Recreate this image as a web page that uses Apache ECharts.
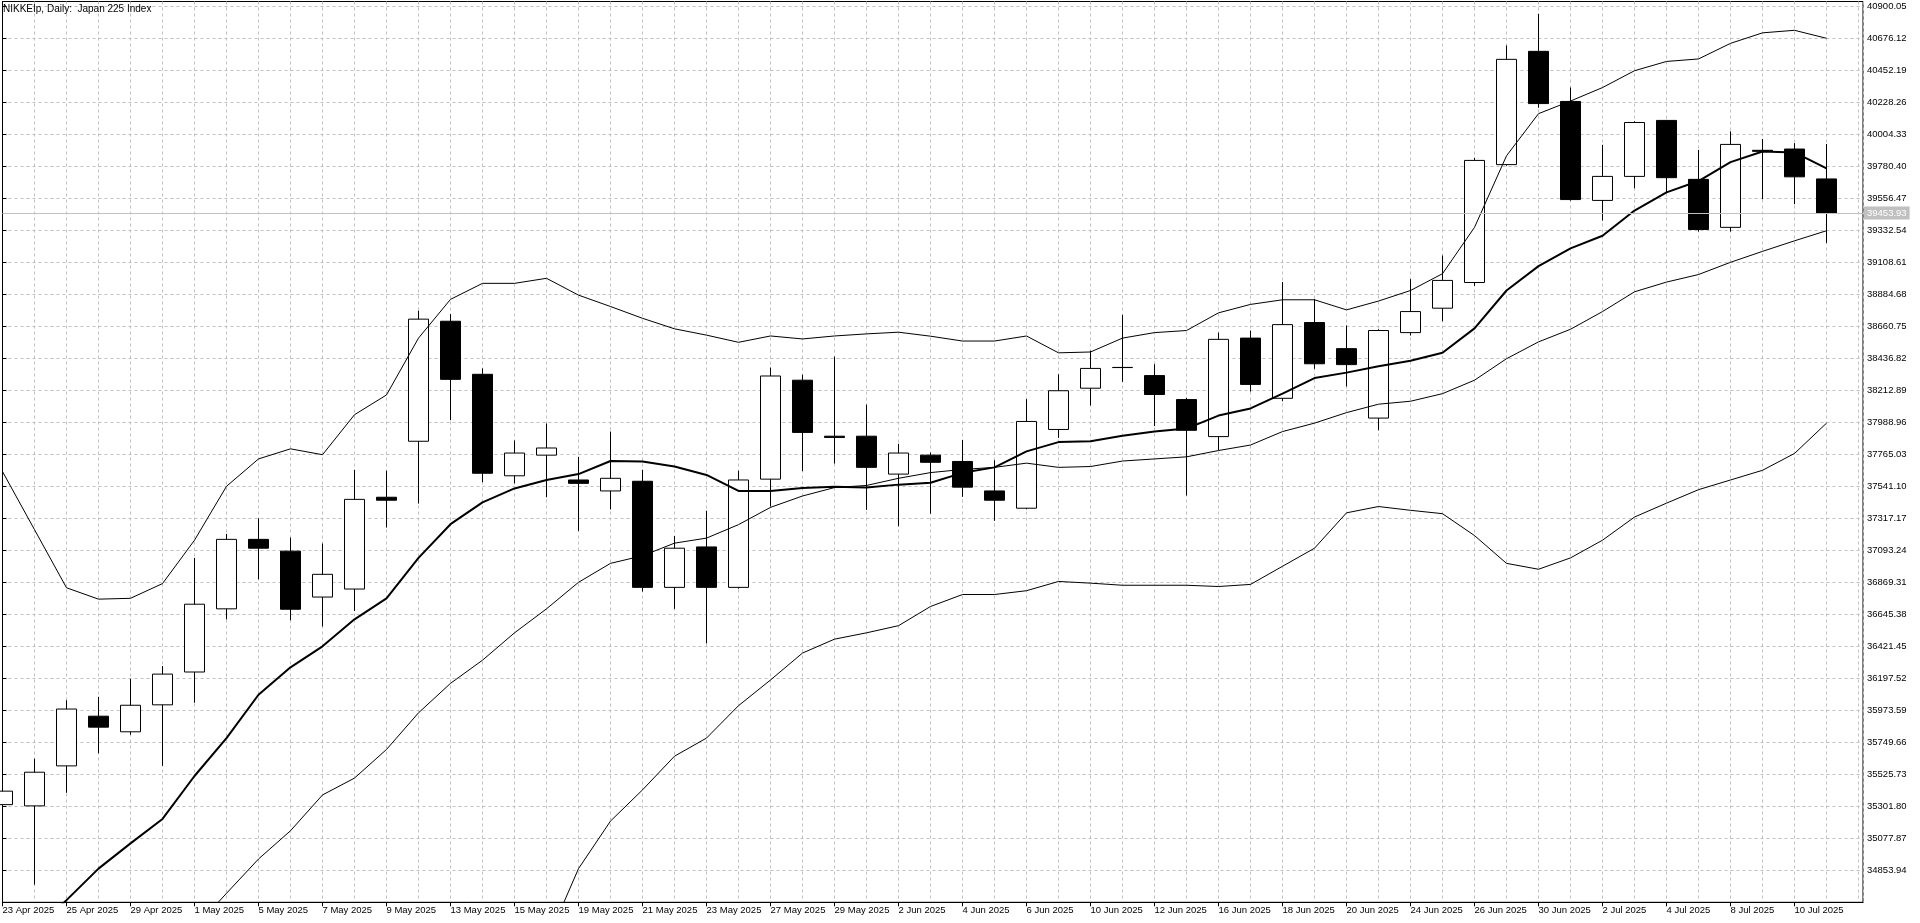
<!DOCTYPE html>
<html>
<head>
<meta charset="utf-8">
<script src="https://cdn.jsdelivr.net/npm/echarts@6/dist/echarts.min.js"></script>
<style>
html,body{margin:0;padding:0;background:#fff;}
#chart{width:1920px;height:923px;}
</style>
</head>
<body>
<div id="chart"></div>
<script>
const dates = ['23 Apr 2025','24 Apr 2025','25 Apr 2025','28 Apr 2025','29 Apr 2025','30 Apr 2025','1 May 2025','2 May 2025','5 May 2025','6 May 2025','7 May 2025','8 May 2025','9 May 2025','12 May 2025','13 May 2025','14 May 2025','15 May 2025','16 May 2025','19 May 2025','20 May 2025','21 May 2025','22 May 2025','23 May 2025','26 May 2025','27 May 2025','28 May 2025','29 May 2025','30 May 2025','2 Jun 2025','3 Jun 2025','4 Jun 2025','5 Jun 2025','6 Jun 2025','9 Jun 2025','10 Jun 2025','11 Jun 2025','12 Jun 2025','13 Jun 2025','16 Jun 2025','17 Jun 2025','18 Jun 2025','19 Jun 2025','20 Jun 2025','23 Jun 2025','24 Jun 2025','25 Jun 2025','26 Jun 2025','27 Jun 2025','30 Jun 2025','1 Jul 2025','2 Jul 2025','3 Jul 2025','4 Jul 2025','7 Jul 2025','8 Jul 2025','9 Jul 2025','10 Jul 2025','11 Jul 2025'];

const opens = [35313.5,35304.7,35584.6,35932.3,35823.2,36011.8,36241.6,36683.6,37169.8,37087.3,36766.1,36822.1,37464.5,37856.3,38696.1,38324.8,37614.7,37759.1,37585.3,37508.6,37576.4,36833.9,37116.8,36833.9,37591.2,38283.6,37891.7,37891.7,37626.5,37759.1,37714.9,37508.7,37387.8,37938.8,38227.5,38372.0,38315.9,38148.0,37888.8,38578.2,38156.9,38687.2,38504.5,38018.4,38616.5,38787.4,38967.2,39792.2,40584.8,40234.2,39541.7,39709.7,40101.5,39689.0,39353.2,39892.3,39901.2,39692.0];

const closes = [35407.8,35540.4,35982.4,35855.7,36008.9,36226.9,36716.0,37169.8,37107.9,36680.7,36925.2,37449.7,37443.8,38710.8,38289.5,37632.4,37773.8,37809.2,37561.7,37597.0,36833.9,37107.9,36833.9,37585.3,38313.0,37918.2,37883.0,37673.7,37773.8,37709.0,37535.2,37443.8,37994.8,38209.9,38366.0,38373.0,38183.4,37932.9,38569.4,38254.1,38672.5,38398.5,38392.6,38631.2,38763.8,38981.9,39821.6,40528.8,40219.4,39547.6,39709.7,40086.8,39700.8,39338.4,39933.6,39885.0,39706.7,39453.93];

const highs = [35440.0,35634.7,36044.2,36067.8,36194.5,36282.9,37040.2,37208.1,37317.1,37181.6,37140.3,37656.0,37650.1,38769.8,38746.2,38366.1,37862.2,37980.1,37747.3,37924.1,37656.0,37193.4,37370.2,37650.1,38372.0,38321.9,38448.6,38112.7,37838.7,37776.8,37865.2,37723.8,38151.0,38324.8,38489.9,38740.3,38395.6,38159.8,38616.5,38631.2,38970.1,38852.2,38666.6,38640.0,38990.7,39155.7,39839.3,40626.0,40847.0,40331.4,39930.7,40095.6,40105.0,39895.3,40025.0,39971.9,39942.4,39936.5];

const lows = [35290.0,34753.7,35396.0,35673.0,35802.6,35584.6,36026.6,36610.0,36889.9,36604.1,36559.9,36668.9,37252.3,37420.3,38003.7,37570.5,37561.7,37464.5,37228.7,37379.0,36804.4,36683.6,36442.0,36825.0,37399.6,37647.1,37700.2,37376.1,37261.1,37349.5,37467.4,37299.5,37380.0,37879.9,38106.8,38271.8,37962.4,37476.2,37794.5,38204.0,38136.3,38363.1,38239.4,37932.9,38595.9,38696.1,38943.6,39785.0,40189.9,39540.0,39400.3,39627.2,39600.6,39323.7,39323.7,39550.6,39515.2,39244.1];

const maLine = [34250,34440,34645,34865.6,35042.4,35213.3,35513.9,35779.1,36082.5,36274.1,36421.4,36610.0,36757.3,37040.2,37275.9,37429.1,37526.3,37585.3,37626.5,37717.9,37715.0,37679.5,37620.6,37508.6,37508.6,37529.3,37538.1,37532.2,37552.8,37566.0,37635.3,37673.6,37785.6,37850.5,37856.4,37894.7,37924.1,37944.8,38036.0,38086.2,38189.3,38298.3,38336.6,38380.8,38419.1,38475.1,38646.0,38911.2,39082.1,39205.8,39294.2,39471.0,39597.7,39677.3,39809.9,39883.6,39877.7,39765.7];

const bbUpper = [37644.2,37237.6,36831.0,36751.4,36757.3,36860.4,37163.9,37541.1,37732.6,37803.3,37762.1,38042.0,38180.5,38578.2,38849.3,38961.3,38961.3,38996.6,38878.8,38799.2,38716.7,38643.1,38598.9,38548.8,38593.0,38572.3,38593.0,38607.7,38619.5,38591.5,38557.6,38557.6,38592.9,38475.1,38481.0,38578.2,38616.5,38631.2,38754.9,38813.9,38846.3,38846.3,38775.6,38837.5,38911.2,39029.0,39353.2,39854.0,40148.7,40237.1,40331.4,40449.2,40514.1,40531.7,40640.8,40714.4,40732.1,40676.1];

const bbMiddle = [33120,33330,33540,33760,33980,34200,34450,34693,34933,35130.8,35381.3,35499.1,35699.5,35955.8,36162.1,36324.2,36515.7,36683.6,36869.3,37001.9,37054.9,37143.3,37178.6,37272.9,37393.7,37473.3,37532.2,37547.0,37597.0,37637.0,37658.9,37673.6,37703.1,37673.6,37679.5,37717.9,37732.6,37747.3,37791.5,37829.8,37924.1,37983.1,38056.7,38115.7,38136.3,38189.3,38283.6,38433.9,38551.7,38640.1,38763.8,38902.3,38970.1,39023.1,39108.6,39185.2,39258.9,39329.6];

const bbLower = [28596,29422,30249,30769,31203,31540,31736,31845,32133,32459,33001,32956,33218,33334,33475,33687,34070,34350,34865.6,35198.6,35416.6,35652.4,35779.1,36005.9,36185.7,36374.2,36471.5,36515.7,36565.8,36700.0,36783.8,36783.8,36810.4,36875.2,36863.4,36848.6,36848.6,36848.6,36839.8,36854.5,36981.3,37107.9,37355.4,37399.6,37373.1,37349.5,37196.3,37001.8,36960.6,37040.2,37163.9,37326.0,37423.2,37517.5,37585.3,37653.1,37770.9,37983.1];

const yTicks = [34853.94,35077.87,35301.80,35525.73,35749.66,35973.59,36197.52,36421.45,36645.38,36869.31,37093.24,37317.17,37541.10,37765.03,37988.96,38212.89,38436.82,38660.75,38884.68,39108.61,39332.54,39556.47,39780.40,40004.33,40228.26,40452.19,40676.12,40900.05];

const lastPrice = 39453.93;
const titleText = 'NIKKEIp, Daily:  Japan 225 Index';

const FONT = '"Liberation Sans", Arial, sans-serif';
const Y_MIN = 34630.01, Y_MAX = 40933.64, X_MAX = 58.14;
const xLabelIdx = dates.map((d, i) => i).filter(i => i % 2 === 0);
const GRIDC = '#c0c0c0';

function lineSeries(arr, w) {
  return {
    type: 'line', xAxisIndex: 0, yAxisIndex: 0,
    data: arr.map((v, i) => [i, v]),
    symbol: 'none', showSymbol: false, silent: true, clip: true,
    lineStyle: { color: '#000', width: w },
    emphasis: { disabled: true }, z: 3
  };
}

const chart = echarts.init(document.getElementById('chart'), null, { renderer: 'canvas' });
chart.setOption({
  animation: false,
  backgroundColor: '#fff',
  title: {
    text: titleText, left: 3, top: 4, padding: 0,
    textStyle: { fontSize: 10, fontWeight: 'normal', color: '#000', fontFamily: FONT }
  },
  tooltip: { show: false },
  grid: {
    left: 2.5, top: 1.5, width: 1860.5, height: 900.8,
    show: true, borderColor: '#000', borderWidth: 1, backgroundColor: '#fff',
    containLabel: false, outerBoundsMode: 'none'
  },
  xAxis: [
    {
      type: 'value', position: 'bottom', min: 0, max: X_MAX, interval: 1,
      axisLine: { show: true, lineStyle: { color: '#000', width: 1 } },
      axisTick: { show: false }, axisLabel: { show: false },
      splitLine: { show: true, lineStyle: { color: GRIDC, type: [3, 3], width: 1 } }
    },
    {
      type: 'value', position: 'bottom', min: 0, max: X_MAX,
      axisLine: { show: false }, splitLine: { show: false },
      axisTick: { show: true, customValues: xLabelIdx, length: 4, inside: false, lineStyle: { color: '#000', width: 1 } },
      axisLabel: {
        show: true, customValues: xLabelIdx, formatter: v => dates[v] || '',
        align: 'left', margin: 3, color: '#000', fontSize: 9.5, fontFamily: FONT
      }
    }
  ],
  yAxis: {
    type: 'value', position: 'right', min: Y_MIN, max: Y_MAX,
    axisLine: { show: true, lineStyle: { color: '#000', width: 1 } },
    axisTick: { show: true, customValues: yTicks, length: 4, inside: false, lineStyle: { color: '#000' } },
    axisLabel: {
      show: true, customValues: yTicks, formatter: v => v.toFixed(2),
      margin: 4, color: '#000', fontSize: 9.5, fontFamily: FONT
    },
    splitLine: { show: true, lineStyle: { color: GRIDC, type: [3, 3], width: 1 } }
  },
  series: [
    {
      type: 'candlestick', xAxisIndex: 0, yAxisIndex: 0,
      barWidth: 21, clip: true, silent: true,
      encode: { x: 0, y: [1, 2, 3, 4] },
      data: dates.map((d, i) => [i, opens[i], closes[i], lows[i], highs[i]]),
      itemStyle: {
        color: '#fff', color0: '#000',
        borderColor: '#000', borderColor0: '#000', borderColorDoji: '#000',
        borderWidth: 1
      },
      emphasis: { disabled: true },
      z: 2,
      markLine: {
        silent: true, animation: false, symbol: ['none', 'none'],
        data: [{ yAxis: lastPrice }],
        lineStyle: { color: GRIDC, type: 'solid', width: 1 },
        label: {
          show: true, position: 'end', distance: 1,
          formatter: lastPrice.toFixed(2),
          backgroundColor: GRIDC, color: '#fff',
          fontSize: 9.5, fontFamily: FONT, padding: [2, 3, 1, 3]
        },
        emphasis: { disabled: true }
      }
    },
    lineSeries(bbUpper, 1),
    lineSeries(bbMiddle, 1),
    lineSeries(bbLower, 1),
    lineSeries(maLine, 2)
  ]
});
</script>
</body>
</html>
